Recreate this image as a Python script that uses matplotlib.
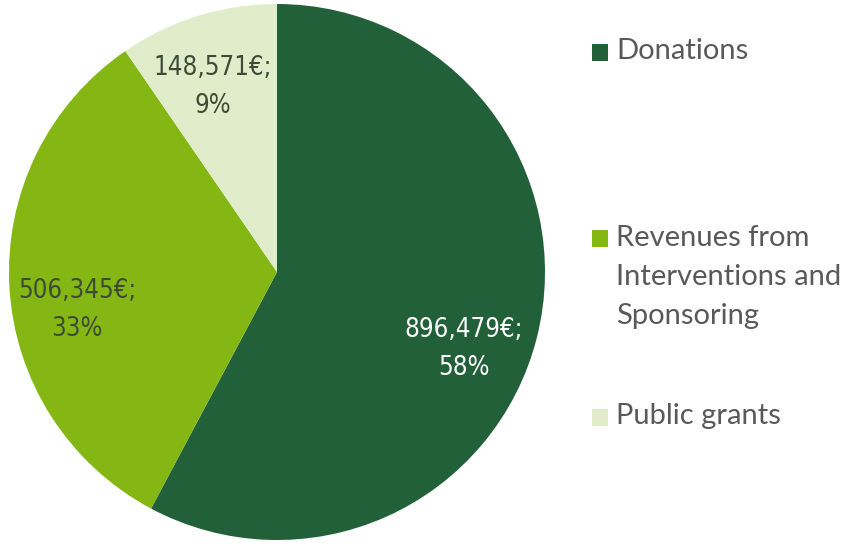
import matplotlib
matplotlib.use("Agg")
import matplotlib.pyplot as plt
import numpy as np

# Income sources (EUR) and the rounded shares shown on the labels
categories = ["Donations", "Revenues from\nInterventions and\nSponsoring", "Public grants"]
amounts = [896479, 506345, 148571]
shares = [58, 33, 9]
colors = ["#22603a", "#84b713", "#e1eccb"]
label_colors = ["#ffffff", "#3d4a36", "#3d4a36"]
# label placement inside each slice: (angle offset from mid-angle in degrees, radius fraction)
label_place = [(-8.5, 0.755), (7.5, 0.76), (1.8, 0.73)]

W, H = 850, 544
fig = plt.figure(figsize=(W / 100, H / 100), dpi=100)

cx, cy, r = 277, 272, 268
ax = fig.add_axes([(cx - r) / W, (H - cy - r) / H, 2 * r / W, 2 * r / H])
wedges, _ = ax.pie(amounts, colors=colors, startangle=90, counterclock=False,
                   radius=1.0, wedgeprops=dict(linewidth=0))
ax.set_xlim(-1, 1)
ax.set_ylim(-1, 1)
ax.set_aspect("equal")
ax.axis("off")

for w, amt, pct, tc, (doff, rf) in zip(wedges, amounts, shares, label_colors, label_place):
    mid = np.deg2rad((w.theta1 + w.theta2) / 2 + doff)
    x, y = rf * np.cos(mid), rf * np.sin(mid)
    ax.text(x, y, f"{amt:,}€;\n{pct}%", ha="center", va="center", color=tc,
            fontsize=18.5, family="DejaVu Sans", stretch="condensed", linespacing=1.6)

# Legend drawn on the right side
legend_y = [51, 277, 416]
for col, name, ly in zip(colors, categories, legend_y):
    sq_y = ly if "\n" not in name else ly - 40
    fig.patches.append(plt.Rectangle((592 / W, 1 - (sq_y + 9.5) / H), 16 / W, 17 / H,
                                     transform=fig.transFigure, color=col, lw=0))
    fig.text(616 / W, 1 - ly / H, name, ha="left", va="center",
             color="#595959", fontsize=21, family="Lato", linespacing=1.6)

fig.savefig("out.png", dpi=100)
